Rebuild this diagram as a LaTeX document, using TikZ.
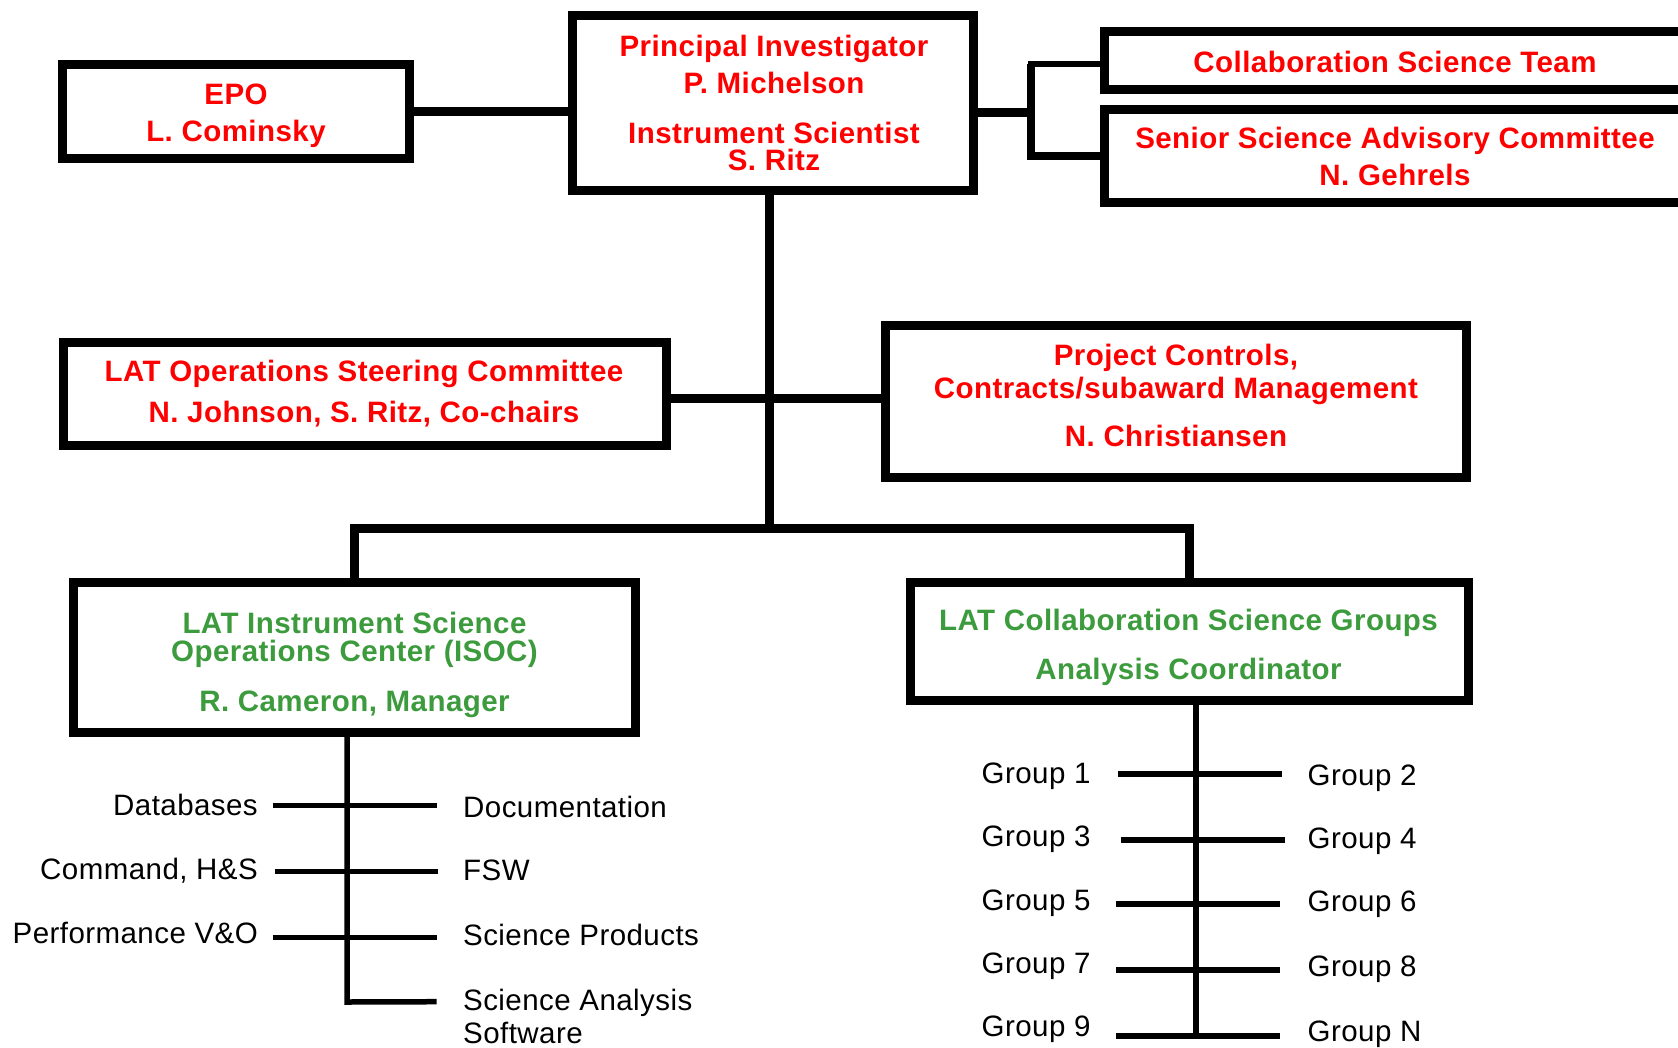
\documentclass[tikz,border=0pt]{standalone}
\usepackage{fontspec}
\setmainfont{Liberation Sans}[LetterSpace=1.5]
\definecolor{orgred}{RGB}{255,0,0}
\definecolor{orggreen}{RGB}{60,155,60}
\begin{document}
\begin{tikzpicture}[x=1pt,y=-1pt,
  box/.style={draw=black,line width=9pt,inner sep=0pt,fill=white},
  conn/.style={draw=black,line width=9pt},
  thin/.style={draw=black,line width=5.5pt},
  rt/.style={text=orgred,font=\bfseries\fontsize{29.5}{30}\selectfont,inner sep=0pt,anchor=base},
  gt/.style={text=orggreen,font=\bfseries\fontsize{29.5}{30}\selectfont,inner sep=0pt,anchor=base},
  lbl/.style={text=black,font=\fontsize{29.5}{30}\selectfont,inner sep=0pt}]
\useasboundingbox (0,0) rectangle (1678,1047);
\clip (0,0) rectangle (1678,1047);

% junction coordinates
\coordinate (jr) at (1031,112);
\coordinate (jcst) at (1031,64);
\coordinate (jssac) at (1031,156);
\coordinate (jm) at (769,398);
\coordinate (jb) at (769,528);
\coordinate (iv) at (347,1002);
\coordinate (gv) at (1196,1036);

% boxes
\node[box,minimum width=347pt,minimum height=94pt] (epo) at (236,111.5) {};
\node[box,minimum width=401pt,minimum height=175pt] (pi) at (773,103) {};
\node[box,minimum width=583pt,minimum height=58pt] (cst) at (1396,60.5) {};
\node[box,minimum width=583pt,minimum height=93pt] (ssac) at (1396,156) {};
\node[box,minimum width=603pt,minimum height=103pt] (losc) at (365,394) {};
\node[box,minimum width=581pt,minimum height=152pt] (pccm) at (1176,401.5) {};
\node[box,minimum width=562pt,minimum height=150pt] (isoc) at (354.5,657.5) {};
\node[box,minimum width=558pt,minimum height=118pt] (lcsg) at (1189.5,641.5) {};

% connectors
\draw[conn] (epo.east) -- (epo.east -| pi.west);
\draw[conn] (pi.east |- jr) -- (jr);
\draw[line width=6pt] (cst.west |- jcst) -- (jcst) -- (jssac);
\draw[line width=8pt] (jcst) -- (jssac) -- (ssac.west |- jssac);
\draw[conn] (jb |- pi.south) -- (jb);
\draw[conn] (jm -| losc.east) -- (jm -| pccm.west);
\draw[conn] (isoc.north) |- (jb) -| (lcsg.north);

% box texts
\node[rt] (epo1) at (236,104) {EPO};
\node[rt] (epo2) at (236,141) {L. Cominsky};
\node[rt] (pi1) at (774,56.7) {Principal Investigator};
\node[rt] (pi2) at (774,93.3) {P. Michelson};
\node[rt] (pi3) at (774,143.3) {Instrument Scientist};
\node[rt] (pi4) at (774,170) {S. Ritz};
\node[rt] (cst1) at (1395,72) {Collaboration Science Team};
\node[rt] (ssac1) at (1395,148) {Senior Science Advisory Committee};
\node[rt] (ssac2) at (1395,185) {N. Gehrels};
\node[rt] (losc1) at (364,381) {LAT Operations Steering Committee};
\node[rt] (losc2) at (364,422.7) {N. Johnson, S. Ritz, Co-chairs};
\node[rt] (pccm1) at (1176,365) {Project Controls,};
\node[rt] (pccm2) at (1176,398.3) {Contracts/subaward Management};
\node[rt] (pccm3) at (1176,446.7) {N. Christiansen};
\node[gt] (isoc1) at (354.5,633.3) {LAT Instrument Science};
\node[gt] (isoc2) at (354.5,661.7) {Operations Center (ISOC)};
\node[gt] (isoc3) at (354.5,711.7) {R. Cameron, Manager};
\node[gt] (lcsg1) at (1188.5,630) {LAT Collaboration Science Groups};
\node[gt] (lcsg2) at (1188.5,679.3) {Analysis Coordinator};

% ISOC sub-items
\node[lbl,anchor=base east] (db) at (258,815.7) {Databases};
\node[lbl,anchor=base east] (cmd) at (258,879) {Command, H\&S};
\node[lbl,anchor=base east] (perf) at (258,943.3) {Performance V\&O};
\node[lbl,anchor=base west] (doc) at (463,817.3) {Documentation};
\node[lbl,anchor=base west] (fsw) at (463,880.7) {FSW};
\node[lbl,anchor=base west] (sp) at (463,945.7) {Science Products};
\node[lbl,anchor=base west] (sas) at (463,1010) {Science Analysis};
\node[lbl,anchor=base west] (sw) at (463,1043) {Software};

\draw[thin] (iv |- isoc.south) -- (iv) -- ([shift={(-26.3,-8.3)}]sas.base west);
\draw[thin] ([shift={(14.7,-10)}]db.base east) -- ([shift={(-26.3,-11.6)}]doc.base west);
\draw[thin] ([shift={(17,-7.3)}]cmd.base east) -- ([shift={(-25,-9)}]fsw.base west);
\draw[thin] ([shift={(14.7,-5.6)}]perf.base east) -- ([shift={(-26.3,-8)}]sp.base west);

% Groups
\node[lbl,anchor=base west] (g1) at (981.5,783.3) {Group 1};
\node[lbl,anchor=base west] (g3) at (981.5,846.7) {Group 3};
\node[lbl,anchor=base west] (g5) at (981.5,910) {Group 5};
\node[lbl,anchor=base west] (g7) at (981.5,973.3) {Group 7};
\node[lbl,anchor=base west] (g9) at (981.5,1036.7) {Group 9};
\node[lbl,anchor=base west] (g2) at (1307.5,785) {Group 2};
\node[lbl,anchor=base west] (g4) at (1307.5,848.3) {Group 4};
\node[lbl,anchor=base west] (g6) at (1307.5,911.7) {Group 6};
\node[lbl,anchor=base west] (g8) at (1307.5,976.7) {Group 8};
\node[lbl,anchor=base west] (gn) at (1307.5,1041.7) {Group N};

\draw[thin] (gv |- lcsg.south) -- (gv);
\draw[thin] ([shift={(136.8,-9.3)}]g1.base west) -- ([shift={(-25.2,-11)}]g2.base west);
\draw[thin] ([shift={(139.2,-6.7)}]g3.base west) -- ([shift={(-22.5,-8.3)}]g4.base west);
\draw[thin] ([shift={(134.2,-6)}]g5.base west) -- ([shift={(-27.5,-7.7)}]g6.base west);
\draw[thin] ([shift={(134.2,-3.3)}]g7.base west) -- ([shift={(-27.5,-6.7)}]g8.base west);
\draw[thin] ([shift={(134.2,-0.7)}]g9.base west) -- ([shift={(-27.5,-5.7)}]gn.base west);
\end{tikzpicture}
\end{document}
